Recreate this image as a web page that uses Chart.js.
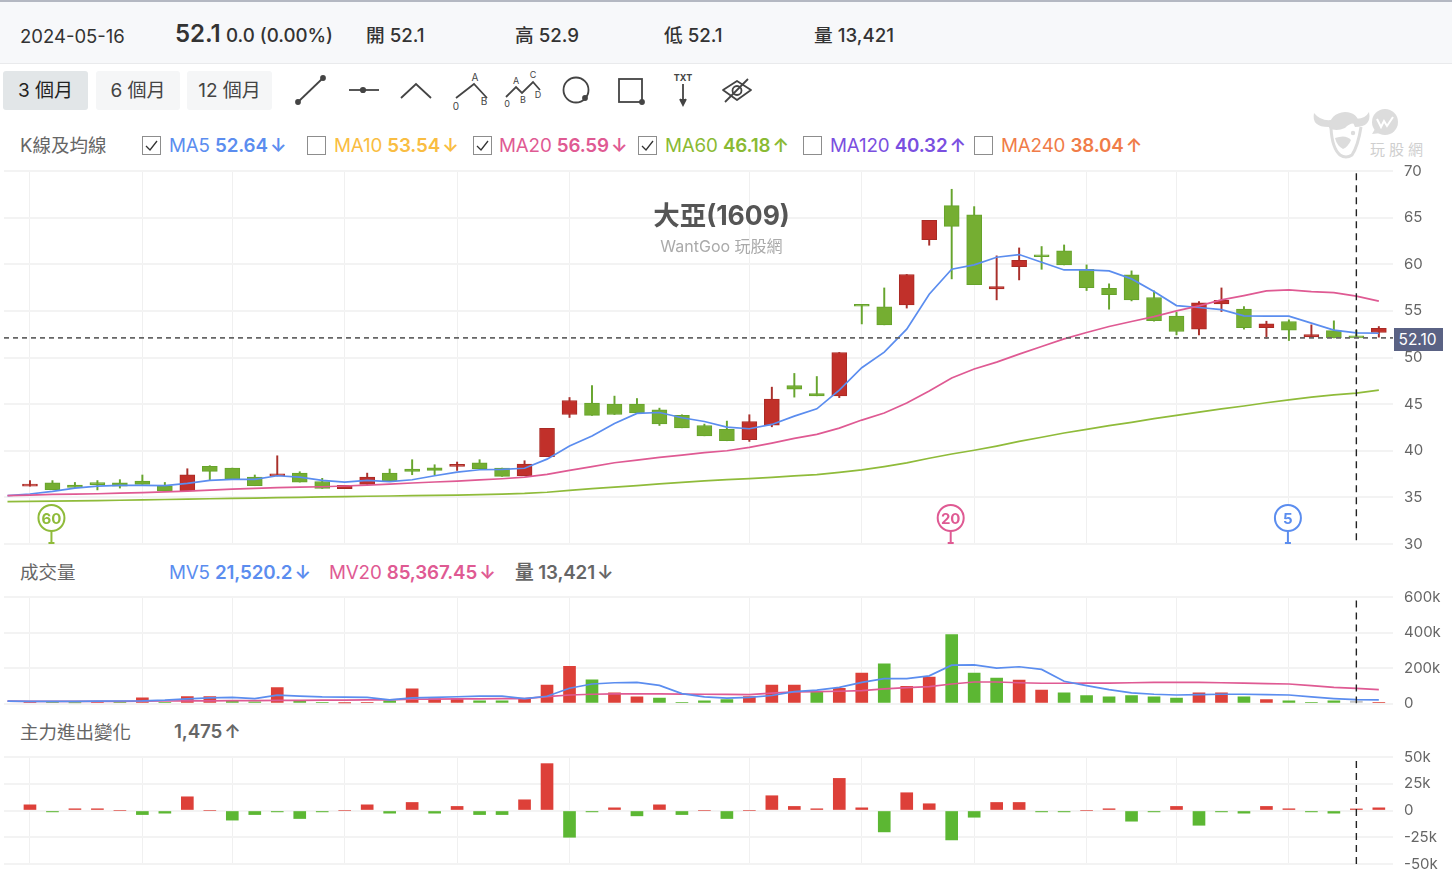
<!DOCTYPE html>
<html lang="zh-Hant"><head><meta charset="utf-8"><title>大亞(1609)</title>
<style>
html,body{margin:0;padding:0;background:#fff;width:1452px;height:874px;overflow:hidden;font-family:Inter,"Noto Sans CJK TC",sans-serif;color:#333}
.t{position:absolute;white-space:nowrap;line-height:24px;height:24px}
canvas{position:absolute;left:0}
#hdr{position:absolute;left:0;top:0;width:1452px;height:61px;background:#f7f8fa;border-top:2px solid #b4b8c2;border-bottom:1px solid #e9eaec;box-sizing:content-box}
.btn{position:absolute;top:71px;height:39px;line-height:39px;text-align:center;border-radius:3px;font-size:19px;background:#f5f6f7;color:#444}
.cb{position:absolute;top:136px;width:17px;height:17px;border:1px solid #8d8d8d;background:#fff}
.cb svg{position:absolute;left:1px;top:1px}
.lg{font-size:18.8px;font-weight:400;letter-spacing:-.15px}.lg b{font-weight:600}.lg i{font-style:normal;font-weight:600;margin-left:-3px}
.h{font-size:18.7px;font-weight:500;color:#333}
.sec{font-size:18.5px;color:#666}
.tag{position:absolute;left:1394px;top:328px;width:49px;height:23px;line-height:23px;text-align:center;background:#5a6284;color:#fff;font-size:15.5px;text-indent:-2px}
</style></head><body>
<div id="hdr"></div>
<div class="t" style="left:20px;top:23.5px;font-size:18.5px;color:#333">2024-05-16</div>
<div class="t" style="left:175px;top:22px;font-size:24px;font-weight:600;color:#333">52.1</div>
<div class="t h" style="left:226px;top:24px">0.0 (0.00%)</div>
<div class="t h" style="left:366px;top:24px">開 52.1</div>
<div class="t h" style="left:515px;top:24px">高 52.9</div>
<div class="t h" style="left:664px;top:24px">低 52.1</div>
<div class="t h" style="left:814px;top:24px">量 13,421</div>
<div class="btn" style="left:3px;width:85px;background:#e2e6e8;color:#222">3 個月</div>
<div class="btn" style="left:96px;width:84px">6 個月</div>
<div class="btn" style="left:187px;width:85px">12 個月</div>
<svg style="position:absolute;left:290px;top:66px" width="480" height="52" viewBox="290 66 480 52" fill="none" stroke="#444" stroke-width="1.8" font-family="Inter,sans-serif">
<line x1="298" y1="102" x2="323" y2="78"/><circle cx="298" cy="102" r="2" fill="#444"/><circle cx="323" cy="78" r="2" fill="#444"/>
<line x1="349" y1="90" x2="379" y2="90"/><circle cx="363" cy="90" r="2.2" fill="#444"/>
<polyline points="401,98 416,84 431,98"/>
<polyline points="456,98 474,84 487,98"/>
<polyline points="506,97 516,87 522,93 533,82 540,90"/>
<circle cx="576" cy="90" r="12.5"/><circle cx="585" cy="98" r="2" fill="#444"/>
<rect x="619" y="79" width="23" height="23"/><circle cx="642" cy="102" r="2" fill="#444"/>
<line x1="683" y1="84" x2="683" y2="103"/><polyline points="680,99 683,105 686,99" fill="#444"/>
<path d="M723 90 L737 81 L751 90 L737 100Z" stroke-linejoin="round"/><circle cx="737" cy="90.5" r="4.5"/><line x1="725" y1="102" x2="748" y2="79"/>
<g fill="#444" stroke="none" font-size="10">
<text x="475" y="81" text-anchor="middle">A</text><text x="456" y="110" text-anchor="middle">0</text><text x="484" y="105" text-anchor="middle">B</text>
<text x="516" y="84" text-anchor="middle" font-size="9">A</text><text x="533" y="78" text-anchor="middle" font-size="9">C</text><text x="507" y="107" text-anchor="middle" font-size="9">0</text><text x="523" y="103" text-anchor="middle" font-size="9">B</text><text x="538" y="98" text-anchor="middle" font-size="9">D</text>
<text x="683" y="81" text-anchor="middle" font-size="9" font-weight="700">TXT</text></g></svg>

<div class="t sec" style="left:20px;top:133.4px">K線及均線</div>
<div class="cb" style="left:142px"><svg width="15" height="15" fill="none" stroke="#333" stroke-width="1.3"><polyline points="2,8 6,12 13,3"/></svg></div>
<div class="t lg" style="left:169px;top:133.6px;color:#5b8def">MA5 <b>52.64</b> <i>↓</i></div>
<div class="cb" style="left:307px"></div>
<div class="t lg" style="left:334px;top:133.6px;color:#f9bd42">MA10 <b>53.54</b> <i>↓</i></div>
<div class="cb" style="left:473px"><svg width="15" height="15" fill="none" stroke="#333" stroke-width="1.3"><polyline points="2,8 6,12 13,3"/></svg></div>
<div class="t lg" style="left:499px;top:133.6px;color:#df5a93">MA20 <b>56.59</b> <i>↓</i></div>
<div class="cb" style="left:638px"><svg width="15" height="15" fill="none" stroke="#333" stroke-width="1.3"><polyline points="2,8 6,12 13,3"/></svg></div>
<div class="t lg" style="left:665px;top:133.6px;color:#8aba33">MA60 <b>46.18</b> <i>↑</i></div>
<div class="cb" style="left:803px"></div>
<div class="t lg" style="left:830px;top:133.6px;color:#7a4fe0">MA120 <b>40.32</b> <i>↑</i></div>
<div class="cb" style="left:974px"></div>
<div class="t lg" style="left:1001px;top:133.6px;color:#f07c48">MA240 <b>38.04</b> <i>↑</i></div>

<svg style="position:absolute;left:1310px;top:104px" width="120" height="58" viewBox="1310 104 120 58" fill="#dcdcdc">
<circle cx="1385" cy="122" r="13"/><path d="M1375 129 L1372 134 L1381 133Z"/>
<path d="M1377 119 L1381 127 L1384 121 L1387 126 L1393 117" fill="none" stroke="#fff" stroke-width="2"/>
<path d="M1314 113 Q1311 128 1331 127 L1336 119 Q1322 123 1314 113Z"/>
<path d="M1369 112 Q1372 127 1355 127 L1351 118 Q1364 121 1369 112Z"/>
<path d="M1329 128 Q1330 113 1345 112 Q1358 112 1360 126 Q1352 120 1345 128 Q1336 132 1329 128Z"/>
<path d="M1331 128 Q1332 148 1340 155 Q1346 159 1352 155 Q1358 146 1361 127" fill="none" stroke="#dcdcdc" stroke-width="3"/>
<path d="M1335 138 Q1346 134 1351 140 Q1348 147 1343 149 Q1337 146 1335 138Z"/>
<circle cx="1353" cy="133" r="2.2"/></svg>
<div class="t" style="left:1370px;top:138px;font-size:15px;letter-spacing:4px;color:#cfcfcf">玩股網</div>

<div class="t sec" style="left:20px;top:560.4px">成交量</div>
<div class="t lg" style="left:169px;top:561px;color:#5b8def">MV5 <b>21,520.2</b> <i>↓</i></div>
<div class="t lg" style="left:329px;top:561px;color:#df5a93">MV20 <b>85,367.45</b> <i>↓</i></div>
<div class="t lg" style="left:515px;top:561px;color:#666"><b>量 13,421</b> <i>↓</i></div>
<div class="t sec" style="left:20px;top:720px">主力進出變化</div>
<div class="t lg" style="left:174px;top:720px;color:#666"><b>1,475</b> <i>↑</i></div>

<canvas id="cPrice" width="1452" height="395" style="top:160px"></canvas>
<canvas id="cVol" width="1452" height="124" style="top:590px"></canvas>
<canvas id="cFlow" width="1452" height="124" style="top:750px"></canvas>
<div class="t" style="left:0;width:1443px;text-align:center;top:203px;font-size:26.5px;font-weight:700;color:#555">大亞(1609)</div>
<div class="t" style="left:0;width:1443px;text-align:center;top:233.5px;font-size:16px;color:#aaa">WantGoo 玩股網</div>
<div class="tag">52.10</div>

<script src="https://cdn.jsdelivr.net/npm/chart.js@4/dist/chart.umd.min.js"></script>
<script>
const opens=[36.2,36.57,36.32,36.57,36.57,36.75,36.25,35.68,38.32,38.14,37.18,37.3,37.6,36.7,35.93,36.39,37.6,38.04,38.18,38.32,38.71,38.14,37.32,39.36,43.89,45.1,45,45,44.39,43.79,42.71,42.29,41.18,42.75,47,46.14,45.89,55.6,55.43,55.64,62.64,66.29,65.29,57.36,59.75,61,61.43,59.46,57.43,58.86,56.43,54.43,53.04,55.75,55.18,53.21,53.86,52.21,52.89,52.1,52.68];
const closes=[36.35,35.82,36.07,36.36,36.2,36.4,35.68,37.43,37.79,36.96,36.25,37.46,36.64,35.96,36.29,37.18,36.79,37.79,37.89,38.5,38.07,37.25,38.57,42.4,45.39,43.79,43.89,44.07,42.89,42.46,41.6,41.07,43.14,45.54,46.6,45.89,50.54,55.5,53.5,58.9,64.7,64.07,57.82,57.6,60.43,60.8,59.93,57.5,56.75,56.18,53.96,52.79,55.86,56.14,53.21,53.6,52.93,52.46,52.1,52.1,53.14];
const highs=[36.8,36.8,36.6,36.8,36.9,37.4,36.6,38.07,38.4,38.14,37.4,39.46,37.75,37.04,36.29,37.6,38.04,39.04,38.5,38.79,39.04,38.14,38.93,42.4,45.71,47,45.86,45.6,44.57,43.86,42.86,43.18,43.86,46.82,48.29,47.96,50.54,55.6,57.46,58.9,64.7,68.04,66.18,60.9,61.75,61.9,62.07,59.93,57.9,59.29,57.14,54.86,56,57.46,55.46,53.89,54.04,53.5,53.93,52.9,53.32];
const lows=[36.2,35.82,36.07,35.8,36,36.4,35.68,35.68,36.9,36.96,36.25,37.3,36.64,35.96,35.93,36.39,36.79,37.43,37.43,37.89,38.07,37.25,37.32,39.36,43.57,43.79,43.89,44.07,42.71,42.46,41.6,41.07,41,42.57,45.75,45.89,45.7,53.6,53.5,55.3,62.04,58.43,57.82,56.18,58.32,59.46,59.93,57.18,55.18,56.07,53.9,52.43,52.43,54.93,53.04,52.04,51.82,52.14,52.1,52.1,52.18];
const ma5=[35.18,35.36,35.64,36,36.2,36.29,36.29,36.25,36.5,36.82,36.93,36.93,37.32,37.18,36.82,36.64,36.82,36.68,36.89,37.32,37.71,37.96,38,38.12,39.1,40.5,41.57,42.93,44,44.1,43.54,43.14,42.54,42.36,42.82,43.71,44.5,46.5,48.9,50.57,53.04,56.79,59.46,59.93,60.75,61.04,60.21,59.39,59.39,59.29,58.43,57.07,55.57,55.36,55.14,54.46,54.43,54.43,53.68,52.93,52.64,52.6];
const ma20=[35.18,35.25,35.32,35.35,35.39,35.45,35.5,35.58,35.68,35.78,35.89,35.96,36.04,36.09,36.14,36.22,36.32,36.42,36.54,36.65,36.75,36.87,37,37.18,37.46,37.89,38.29,38.71,39,39.29,39.54,39.79,40,40.36,40.82,41.32,41.75,42.43,43.29,44.05,45.12,46.4,47.8,48.77,49.5,50.36,51.18,52,52.68,53.32,53.86,54.39,55,55.54,56.18,56.64,57.14,57.25,57.07,56.96,56.59,56.04];
const ma60=[34.54,34.57,34.6,34.63,34.66,34.69,34.73,34.77,34.81,34.85,34.89,34.93,34.97,35.01,35.05,35.09,35.12,35.15,35.18,35.21,35.25,35.3,35.35,35.42,35.55,35.75,35.93,36.1,36.27,36.44,36.6,36.77,36.9,37.02,37.15,37.3,37.45,37.68,37.95,38.3,38.7,39.2,39.65,40.05,40.5,41,41.45,41.9,42.3,42.7,43.05,43.45,43.8,44.15,44.5,44.8,45.15,45.45,45.75,46,46.18,46.5];
const volumes=[11000,11000,3000,11000,9000,32000,7000,39000,39000,15000,9000,89000,13000,7000,2000,7000,15000,82000,26000,26000,15000,15000,26000,104000,209000,134000,60000,37000,30000,7000,15000,22000,39000,104000,104000,63000,86000,171000,224000,97000,149000,388000,171000,143000,132000,75000,60000,45000,37000,45000,37000,30000,60000,60000,37000,22000,15000,7000,15000,13421,7000];
const volDir=[1,-1,-1,1,-1,1,-1,1,1,-1,-1,1,-1,-1,1,1,-1,1,1,1,-1,-1,1,1,1,-1,1,1,-1,-1,-1,-1,1,1,1,-1,1,1,-1,1,1,-1,-1,-1,1,1,-1,-1,-1,-1,-1,-1,1,1,-1,1,-1,-1,-1,0,1];
const mv5=[13,12,12,12,13,14,15,19,26,32,34,28,47,41,37,36,35,20,32,35,38,41,41,28,41,86,110,117,119,102,56,37,30,35,45,67,75,91,119,140,140,156,216,218,199,207,192,125,101,78,60,52,48,50,52,52,50,48,37,28,21.52,20];
const mv20=[13,12,12,12,12,12,13,14,15,15,16,16,18,18,19,19,20,20,24,25,26,26,27,28,39,48,52,54,54,54,53,52,51,50,58,65,67,69,73,82,89,95,110,121,121,117,114,114,115,115,117,119,119,119,117,115,112,110,101,91,85.37,78];
const flows=[5.3,-1.3,1.6,1.6,0,-3.8,-2.5,12.8,0,-9,-3.8,-1.3,-7.5,-1.3,0,5.3,-2.5,7.5,-2.5,3.8,-3.8,-3.8,10,43.8,-25,-1.3,2.5,-5,5.3,-3.8,0,-7.5,0,13.8,3.8,1.6,30,2.5,-20,16.6,6.3,-27.5,-6.3,7.5,7.5,-1.3,-1.3,0,1.6,-10,-1.3,3.8,-13.8,-1.3,-2.5,3.8,1.6,-1.3,-2.5,1.475,2.5];
const gridIdx=[0,5,9,14,19,24,32,37,42,47,51,56];
const crossIdx=59, lastPrice=52.1, firstMaIdx=-1;
const markerIdx=[1,41,56], markerText=['60','20','5'];

const FONT='Inter,"Noto Sans CJK TC",sans-serif';
const C={red:'#c1302a',redB:'#a92a25',green:'#75ae32',greenB:'#66a32b',vRed:'#dd4039',vGreen:'#5cb733',blue:'#5b8def',pink:'#df5a93',lime:'#8fbb3a',hGrid:'#f3f3f3',vGrid:'#f0f0f0'};
const X0=-1.155,X1=60.63;
const up=i=>closes[i]>opens[i];
const xs=()=>({type:'linear',min:X0,max:X1,offset:false,
  afterBuildTicks:s=>{s.ticks=gridIdx.map(v=>({value:v}))},
  grid:{offset:false,color:C.vGrid,lineWidth:1,drawTicks:false},border:{display:false},ticks:{display:false},afterFit:s=>{s.height=0}});
const ys=(min,max,step,cb)=>({type:'linear',position:'right',min,max,
  grid:{color:C.hGrid,lineWidth:2,drawTicks:false},border:{display:false},
  ticks:{stepSize:step,padding:11,color:'#666',font:{family:FONT,size:15},callback:cb},
  afterFit:s=>{s.width=59;s.paddingTop=0;s.paddingBottom=0}});
const line=(vals,color,scale)=>({type:'line',order:0,data:vals.map((v,i)=>({x:i+firstMaIdx,y:v*scale})),borderColor:color,borderWidth:1.7,pointRadius:0,tension:0,fill:false});
const cross=(lo,hi)=>({type:'line',order:-1,data:[{x:crossIdx,y:lo},{x:crossIdx,y:hi}],borderColor:'#222',borderWidth:1.4,borderDash:[7,5],pointRadius:0});
const base=(top,bottom)=>({responsive:false,animation:false,devicePixelRatio:1,events:[],
  layout:{autoPadding:false,padding:{left:4,right:0,top,bottom}},plugins:{legend:{display:false},tooltip:{enabled:false},title:{display:false}}});
const markers={id:'markers',afterDatasetsDraw(ch){
  const cols=[C.lime,C.pink,C.blue],ctx=ch.ctx,x=ch.scales.x,bottom=ch.chartArea.bottom;
  markerIdx.forEach((m,k)=>{const px=x.getPixelForValue(m)-1,cy=bottom-26;
    ctx.save();ctx.strokeStyle=cols[k];ctx.lineWidth=2;ctx.fillStyle='#fff';
    ctx.beginPath();ctx.moveTo(px,cy+13);ctx.lineTo(px,bottom-1);ctx.stroke();
    ctx.beginPath();ctx.moveTo(px-3,bottom-1);ctx.lineTo(px+3,bottom-1);ctx.stroke();
    ctx.beginPath();ctx.arc(px,cy,13,0,Math.PI*2);ctx.fill();ctx.stroke();
    ctx.fillStyle=cols[k];ctx.font='700 15px '+FONT;ctx.textAlign='center';ctx.textBaseline='middle';ctx.fillText(markerText[k],px,cy+1);ctx.restore();});
}};

const pOpt=base(11,11);
pOpt.scales={x:xs(),y:ys(30,70,5,v=>v)};
new Chart(document.getElementById('cPrice'),{type:'bar',plugins:[markers],data:{datasets:[
  {label:'body',order:2,grouped:false,barThickness:15,minBarLength:2,borderSkipped:false,borderWidth:1,
   data:opens.map((o,i)=>({x:i,y:[o,closes[i]]})),backgroundColor:opens.map((o,i)=>up(i)?C.red:C.green),borderColor:opens.map((o,i)=>up(i)?C.redB:C.greenB)},
  {label:'wick',order:3,grouped:false,barThickness:1.3,borderSkipped:false,borderWidth:0,
   data:lows.map((l,i)=>({x:i,y:[l,highs[i]]})),backgroundColor:opens.map((o,i)=>up(i)?'#a9302b':'#67a52e')},
  line(ma60,C.lime,1),line(ma20,C.pink,1),line(ma5,C.blue,1),
  {type:'line',order:-1,data:[{x:X0,y:lastPrice},{x:X1,y:lastPrice}],borderColor:'#666',borderWidth:1.6,borderDash:[5,4],pointRadius:0},
  cross(30.4,70)
]},options:pOpt});

const vOpt=base(7,10.5);
vOpt.scales={x:xs(),y:ys(0,600000,200000,v=>v===0?'0':(v/1000)+'k')};
new Chart(document.getElementById('cVol'),{type:'bar',data:{datasets:[
  {order:2,grouped:false,barThickness:12,borderWidth:0,data:volumes.map((v,i)=>({x:i,y:v})),backgroundColor:volDir.map(d=>d>0?C.vRed:d<0?C.vGreen:'#c4c4c4')},
  line(mv5,C.blue,1000),line(mv20,C.pink,1000),cross(0,600000)
]},options:vOpt});

const fOpt=base(7,10);
fOpt.scales={x:xs(),y:ys(-50000,50000,25000,v=>v===0?'0':(v/1000)+'k')};
new Chart(document.getElementById('cFlow'),{type:'bar',data:{datasets:[
  {order:2,grouped:false,barThickness:12,borderWidth:0,data:flows.map((v,i)=>({x:i,y:v*1000})),backgroundColor:flows.map(v=>v>=0?C.vRed:C.vGreen)},
  cross(-50000,50000)
]},options:fOpt});
</script></body></html>
